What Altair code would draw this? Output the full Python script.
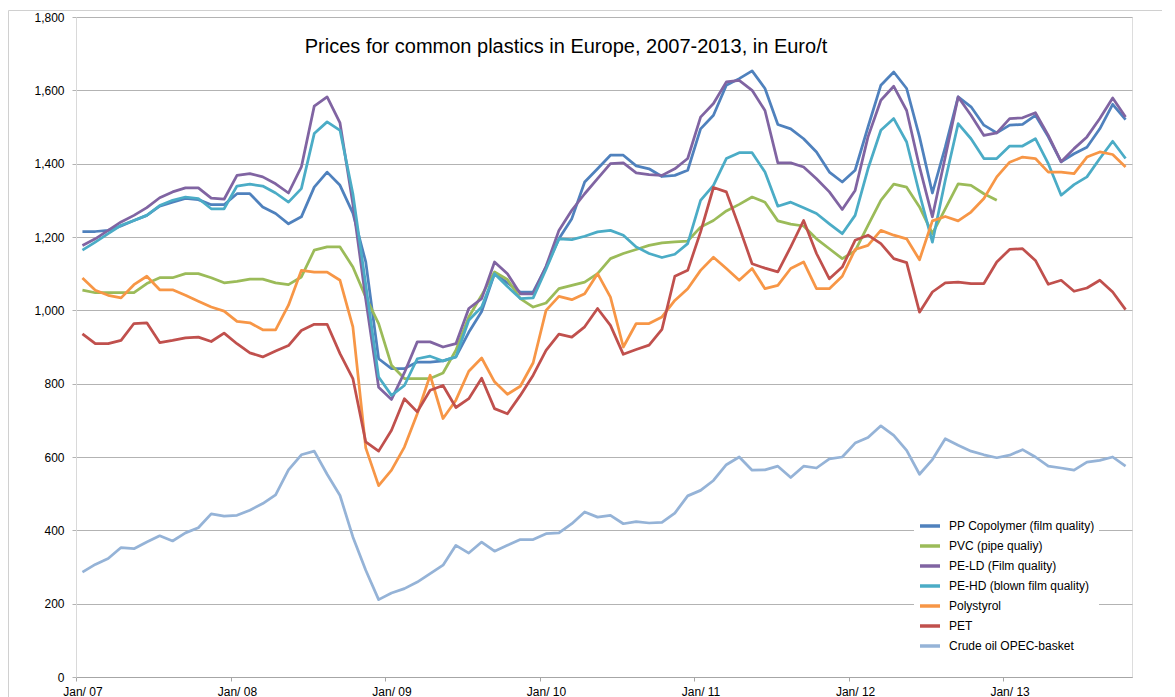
import json
import altair as alt
import pandas as pd

series_names = [
    "PP Copolymer (film quality)",
    "PVC (pipe qualiy)",
    "PE-LD (Film quality)",
    "PE-HD (blown film quality)",
    "Polystyrol",
    "PET",
    "Crude oil OPEC-basket",
]
colors = ["#4F81BD", "#9BBB59", "#8064A2", "#4BACC6", "#F79646", "#C0504D", "#95B3D7"]

# Monthly values Jan 2007 .. Oct 2013 (82 months)
pp = [1215, 1215, 1218, 1230, 1245, 1259, 1284, 1295, 1305, 1302, 1288, 1288,
      1318, 1318, 1282, 1264, 1236, 1255, 1336, 1377, 1341, 1265, 1132, 868,
      841, 841, 859, 859, 862, 873, 940, 997, 1100, 1075, 1050, 1050, 1118, 1195,
      1250, 1350, 1386, 1423, 1423, 1394, 1386, 1365, 1368, 1382,
      1495, 1532, 1614, 1632, 1653, 1605, 1507, 1495, 1468, 1432, 1377, 1350,
      1382, 1500, 1614, 1650, 1605, 1473, 1320, 1445, 1582, 1555, 1505, 1484,
      1505, 1507, 1532, 1473, 1405, 1427, 1445, 1495, 1562, 1520]
pvc = [1055, 1048, 1048, 1048, 1048, 1073, 1089, 1089, 1100, 1100, 1089, 1075,
       1079, 1085, 1085, 1075, 1070, 1091, 1164, 1173, 1173, 1118, 1036, 964,
       850, 814, 814, 814, 829, 891, 982, 1041, 1105, 1084, 1032, 1009,
       1020, 1059, 1068, 1077, 1100, 1141, 1155, 1166, 1177, 1184, 1187, 1189,
       1227, 1245, 1271, 1289, 1309, 1295, 1244, 1235, 1230, 1195, 1168, 1141,
       1162, 1232, 1300, 1344, 1336, 1282, 1209, 1277, 1345, 1341, 1318, 1300,
       None, None, None, None, None, None, None, None, None, None]
peld = [1177, 1195, 1218, 1241, 1259, 1280, 1307, 1323, 1334, 1334, 1306, 1303,
        1368, 1373, 1364, 1345, 1320, 1391, 1557, 1582, 1511, 1290, 1030, 790,
        757, 830, 914, 914, 900, 909, 1005, 1032, 1132, 1100, 1045, 1045,
        1120, 1218, 1273, 1318, 1359, 1400, 1402, 1375, 1370, 1368, 1386, 1414,
        1527, 1564, 1623, 1627, 1600, 1545, 1402, 1402, 1391, 1359, 1323, 1275,
        1327, 1473, 1573, 1611, 1545, 1391, 1255, 1418, 1582, 1532, 1477, 1484,
        1523, 1525, 1539, 1477, 1405, 1441, 1473, 1523, 1579, 1527]
pehd = [1164, 1186, 1209, 1232, 1245, 1259, 1286, 1300, 1309, 1305, 1277, 1277,
        1339, 1344, 1339, 1320, 1295, 1332, 1482, 1514, 1491, 1318, 1070, 818,
        768, 795, 868, 875, 862, 873, 973, 1009, 1100, 1065, 1032, 1034,
        1112, 1195, 1193, 1202, 1214, 1218, 1205, 1173, 1155, 1144, 1153, 1182,
        1300, 1341, 1414, 1430, 1430, 1377, 1284, 1295, 1280, 1264, 1236, 1209,
        1259, 1386, 1491, 1523, 1459, 1318, 1186, 1355, 1509, 1468, 1414, 1414,
        1448, 1448, 1468, 1400, 1314, 1343, 1364, 1414, 1461, 1414]
ps = [1088, 1055, 1041, 1034, 1070, 1093, 1056, 1056, 1041, 1025, 1009, 998,
      970, 966, 947, 947, 1014, 1109, 1104, 1104, 1082, 955, 625, 522,
      564, 627, 718, 823, 705, 755, 834, 870, 805, 771, 793, 857,
      1000, 1038, 1029, 1045, 1100, 1036, 900, 964, 964, 982, 1027, 1059,
      1109, 1145, 1114, 1082, 1114, 1059, 1068, 1114, 1132, 1059, 1059, 1093,
      1166, 1177, 1218, 1205, 1195, 1138, 1244, 1256, 1244, 1268, 1305, 1364,
      1404, 1418, 1414, 1377, 1377, 1373, 1418, 1432, 1425, 1391]
pet = [936, 909, 909, 918, 964, 966, 912, 918, 925, 927, 915, 938,
       909, 884, 873, 889, 904, 945, 962, 962, 882, 814, 641, 616,
       673, 759, 723, 782, 795, 735, 759, 815, 732, 718, 768, 823,
       891, 935, 927, 955, 1005, 959, 880, 893, 905, 948, 1093, 1109,
       1214, 1335, 1323, 1227, 1127, 1115, 1105, 1173, 1245, 1155, 1086, 1118,
       1191, 1205, 1182, 1141, 1130, 995, 1050, 1075, 1077, 1073, 1073, 1132,
       1166, 1168, 1136, 1071, 1082, 1052, 1061, 1082, 1050, 1002]
crude = [286, 307, 323, 353, 350, 368, 385, 371, 393, 407, 445, 439,
         441, 455, 473, 497, 565, 606, 616, 553, 495, 382, 291, 211,
         229, 241, 259, 282, 305, 359, 338, 368, 343, 359, 375, 375,
         391, 393, 418, 450, 436, 441, 418, 424, 420, 422, 447, 494,
         509, 536, 579, 600, 564, 565, 575, 544, 575, 570, 595, 600,
         638, 653, 685, 659, 618, 553, 593, 650, 632, 616, 606, 598,
         605, 620, 600, 575, 570, 564, 586, 591, 600, 575]

tick_labels = ["Jan/ 07", "Jan/ 08", "Jan/ 09", "Jan/ 10", "Jan/ 11", "Jan/ 12", "Jan/ 13"]
title_text = "Prices for common plastics in Europe, 2007-2013, in Euro/t"

all_series = [pp, pvc, peld, pehd, ps, pet, crude]
rows = []
for name, vals in zip(series_names, all_series):
    for i, v in enumerate(vals):
        if v is not None:
            rows.append({"series": name, "m": i + 0.5, "value": v})
df = pd.DataFrame(rows)

FONT = "Liberation Sans"
GRID = "#b3b3b3"
n_months = 82
tick_vals = [12 * k for k in range(len(tick_labels))]
label_expr = json.dumps(tick_labels) + "[round(datum.value / 12)]"

lines = alt.Chart(df).mark_line(strokeWidth=2.75, strokeJoin="round").encode(
    x=alt.X("m:Q",
            scale=alt.Scale(domain=[0, n_months], nice=False, zero=False),
            axis=alt.Axis(values=tick_vals, labelExpr=label_expr, title=None, grid=False,
                          tickSize=4, tickColor="#a6a6a6", domainColor="#a6a6a6",
                          labelOffset=6.4, labelPadding=5, labelFontSize=12,
                          labelColor="#000000", labelFont=FONT, labelOverlap=False,
                          labelFlush=False, labelBound=False)),
    y=alt.Y("value:Q",
            scale=alt.Scale(domain=[0, 1800], nice=False),
            axis=alt.Axis(values=list(range(0, 1801, 200)), format=",.0f", title=None,
                          tickSize=4, tickColor=GRID, gridColor=GRID, domainColor="#d9d9d9",
                          labelPadding=8, labelFontSize=12, labelColor="#000000",
                          labelFont=FONT, labelFlush=False)),
    color=alt.Color("series:N",
                    scale=alt.Scale(domain=series_names, range=colors),
                    legend=alt.Legend(title=None, orient="none", legendX=838, legendY=493,
                                      padding=4, fillColor="white", symbolType="stroke",
                                      symbolSize=400, symbolStrokeWidth=3.5,
                                      labelFontSize=12, labelFont=FONT, labelColor="#000000",
                                      labelOffset=7, rowPadding=1, labelLimit=300)),
)

title = alt.Chart(pd.DataFrame({"t": [title_text]})).mark_text(
    fontSize=20, font=FONT, align="center", baseline="alphabetic", color="#000000"
).encode(x=alt.value(490), y=alt.value(36), text="t:N")

frame = alt.Chart(pd.DataFrame({"a": [0]})).mark_rect(
    filled=False, stroke="#d0d0d0", strokeWidth=1
).encode(x=alt.value(-67.5), x2=alt.value(1110), y=alt.value(-6.5), y2=alt.value(700))

chart = alt.layer(frame, lines, title).properties(
    width=1056, height=660,
    padding={"left": 68, "top": 9, "right": 30, "bottom": 25},
    autosize=alt.AutoSizeParams(type="none"),
).configure_view(stroke=None).configure(font=FONT)

chart.save("out.html", embed_options={"renderer": "svg", "actions": False})
